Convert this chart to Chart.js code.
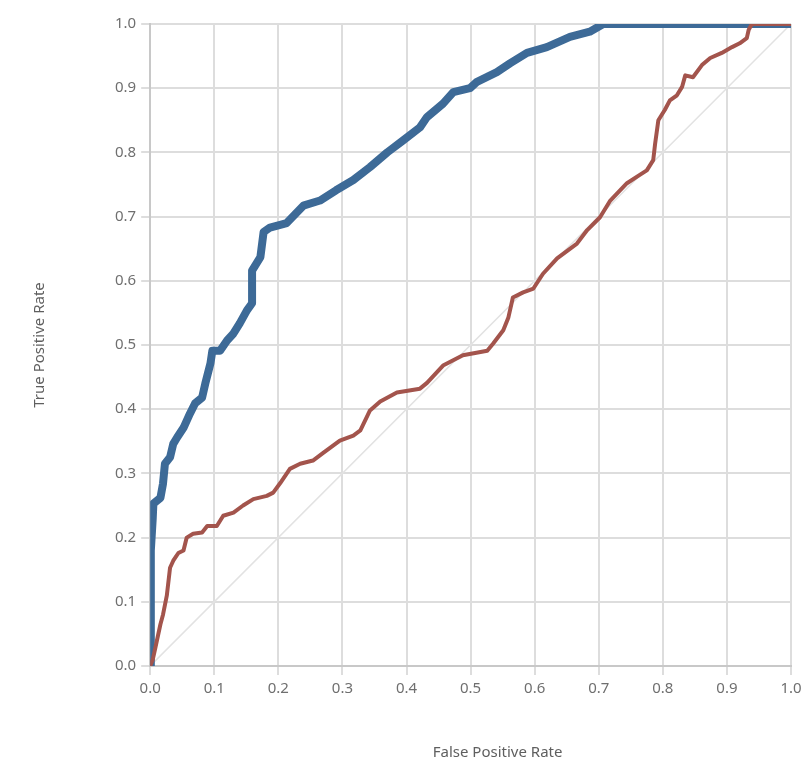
<!DOCTYPE html>
<html>
<head>
<meta charset="utf-8">
<script src="https://cdn.jsdelivr.net/npm/chart.js@4.4.0/dist/chart.umd.min.js"></script>
<style>
  html, body { margin: 0; padding: 0; background: #fff; }
  #wrap { width: 811px; height: 775px; }
</style>
</head>
<body>
<div id="wrap"><canvas id="rocChart"></canvas></div>
<script>
// Model ROC curve (blue)
var blueFpr = [0, 0.001, 0.001, 0.004, 0.005, 0.016, 0.02, 0.023, 0.031, 0.036, 0.042, 0.052, 0.062, 0.07, 0.081, 0.086, 0.094, 0.097, 0.109, 0.12, 0.13, 0.14, 0.151, 0.159, 0.159, 0.172, 0.177, 0.187, 0.213, 0.239, 0.265, 0.29, 0.317, 0.343, 0.37, 0.395, 0.421, 0.432, 0.457, 0.473, 0.499, 0.51, 0.541, 0.562, 0.588, 0.619, 0.655, 0.686, 0.707, 1.0];
var blueTpr = [0, 0.10, 0.18, 0.23, 0.253, 0.262, 0.284, 0.315, 0.325, 0.346, 0.356, 0.371, 0.393, 0.409, 0.418, 0.44, 0.471, 0.491, 0.491, 0.507, 0.518, 0.534, 0.554, 0.565, 0.616, 0.637, 0.676, 0.683, 0.69, 0.717, 0.725, 0.741, 0.757, 0.777, 0.80, 0.819, 0.839, 0.855, 0.876, 0.894, 0.90, 0.91, 0.925, 0.939, 0.955, 0.964, 0.98, 0.988, 1.0, 1.0];

// Second ROC curve (red)
var redFpr = [0, 0.004, 0.008, 0.016, 0.02, 0.026, 0.031, 0.036, 0.044, 0.052, 0.057, 0.067, 0.081, 0.089, 0.104, 0.114, 0.13, 0.145, 0.161, 0.182, 0.192, 0.203, 0.218, 0.234, 0.254, 0.27, 0.296, 0.317, 0.328, 0.343, 0.359, 0.385, 0.421, 0.432, 0.457, 0.488, 0.526, 0.535, 0.551, 0.559, 0.566, 0.582, 0.598, 0.613, 0.635, 0.666, 0.682, 0.702, 0.718, 0.744, 0.764, 0.775, 0.785, 0.788, 0.793, 0.803, 0.811, 0.822, 0.83, 0.835, 0.847, 0.861, 0.874, 0.892, 0.908, 0.92, 0.931, 0.934, 0.939, 1.0];
var redTpr = [0, 0.01, 0.028, 0.065, 0.08, 0.11, 0.153, 0.164, 0.176, 0.18, 0.2, 0.206, 0.208, 0.218, 0.218, 0.234, 0.239, 0.25, 0.26, 0.265, 0.27, 0.285, 0.307, 0.315, 0.32, 0.332, 0.351, 0.359, 0.367, 0.398, 0.412, 0.426, 0.432, 0.441, 0.468, 0.484, 0.491, 0.502, 0.523, 0.543, 0.574, 0.582, 0.588, 0.611, 0.635, 0.658, 0.679, 0.699, 0.725, 0.752, 0.765, 0.772, 0.788, 0.814, 0.85, 0.866, 0.881, 0.889, 0.902, 0.92, 0.917, 0.936, 0.947, 0.955, 0.964, 0.97, 0.978, 0.991, 1.0, 1.0];

// Chance line
var diagFpr = [0, 1];
var diagTpr = [0, 1];

var xTitle = 'False Positive Rate';
var yTitle = 'True Positive Rate';

function toPoints(xs, ys) {
  return xs.map(function (x, i) { return { x: x, y: ys[i] }; });
}

var fontFamily = "'Segoe UI', 'Noto Sans', sans-serif";
var gridColor = '#dddddd';

// x axis title sits a little right of centre in the original, so draw it here
var xTitlePlugin = {
  id: 'xTitle',
  afterDraw: function (chart) {
    var c = chart.ctx;
    var area = chart.chartArea;
    c.save();
    c.font = '15px ' + fontFamily;
    c.fillStyle = '#5f5f5f';
    c.textAlign = 'center';
    c.textBaseline = 'middle';
    c.fillText(xTitle, (area.left + area.right) / 2 + 27, 753);
    c.restore();
  },
};

var ctx = document.getElementById('rocChart').getContext('2d');

var data = {
  datasets: [
    {
      label: 'Random model',
      data: toPoints(redFpr, redTpr),
      borderColor: '#a3544c',
      borderWidth: 4,
    },
    {
      label: 'Model',
      data: toPoints(blueFpr, blueTpr),
      borderColor: '#3d6a97',
      borderWidth: 8,
    },
    {
      label: 'Chance',
      data: toPoints(diagFpr, diagTpr),
      borderColor: '#e2e2e2',
      borderWidth: 1.5,
    },
  ],
};

var axisTicks = {
  stepSize: 0.1,
  color: '#6f6f6f',
  padding: 5,
  font: { family: fontFamily, size: 15 },
  callback: function (v) { return v.toFixed(1); },
};

var options = {
  responsive: true,
  maintainAspectRatio: false,
  animation: false,
  showLine: true,
  layout: { padding: { top: 24, right: 20, left: 0, bottom: 72 } },
  elements: {
    point: { radius: 0, hoverRadius: 0 },
    line: { tension: 0, borderJoinStyle: 'round', borderCapStyle: 'round', fill: false },
  },
  plugins: {
    legend: { display: false },
    tooltip: { enabled: false },
  },
  scales: {
    x: {
      type: 'linear',
      min: 0,
      max: 1,
      ticks: axisTicks,
      grid: { color: gridColor, lineWidth: 2, tickLength: 9 },
      border: { color: '#c8c8c8', width: 2 },
    },
    y: {
      type: 'linear',
      min: 0,
      max: 1,
      ticks: axisTicks,
      grid: { color: gridColor, lineWidth: 2, tickLength: 9 },
      border: { color: '#c8c8c8', width: 2 },
      title: {
        display: true,
        text: yTitle,
        color: '#5f5f5f',
        font: { family: fontFamily, size: 15 },
        padding: { top: 31, bottom: 61 },
      },
    },
  },
};

var rocChart = new Chart(ctx, {
  type: 'scatter',
  data: data,
  options: options,
  plugins: [xTitlePlugin],
});
</script>
</body>
</html>
